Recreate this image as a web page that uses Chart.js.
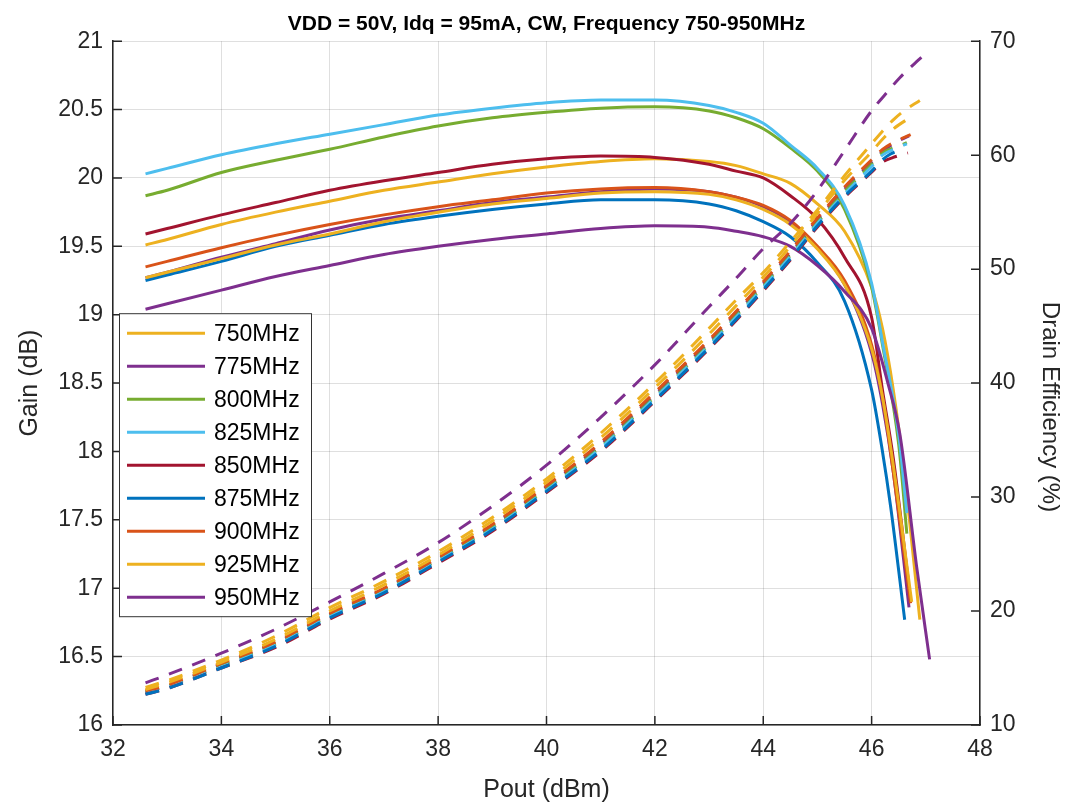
<!DOCTYPE html>
<html>
<head>
<meta charset="utf-8">
<script src="https://cdn.jsdelivr.net/npm/chart.js@4.4.1/dist/chart.umd.min.js"></script>
<style>
  html, body { margin: 0; padding: 0; background: #fff; }
  #wrap { width: 1067px; height: 805px; }
</style>
</head>
<body>
<div id="wrap"><canvas id="chart" width="1067" height="805"></canvas></div>
<script>
// Pout points shared by every curve (dBm), each curve then has its own tail
const poutBase = [32.6, 33, 34, 35, 36, 37, 38, 39, 40, 41, 42, 43, 43.5, 44, 44.5, 45, 45.5, 46];

const tail750 = [46.2, 46.4, 46.6, 46.89];
const tail775 = [46.2, 46.4, 46.69];
const tail800 = [46.2, 46.5, 46.65];
const tail825 = [46.2, 46.5, 46.65];
const tail850 = [46.2, 46.4, 46.67];
const tail875 = [46.2, 46.35, 46.61];
const tail900 = [46.2, 46.4, 46.72];
const tail925 = [46.2, 46.4, 46.74];
const tail950 = [46.3, 46.52, 46.83, 47.07];

// Gain (dB)
const gain750 = [19.51, 19.55, 19.66, 19.75, 19.83, 19.91, 19.97, 20.03, 20.08, 20.12, 20.14, 20.12, 20.09, 20.03, 19.96, 19.81, 19.61, 19.20, 18.90, 18.45, 17.85, 16.77];
const gain775 = [19.27, 19.31, 19.42, 19.52, 19.62, 19.70, 19.76, 19.82, 19.86, 19.90, 19.92, 19.90, 19.86, 19.79, 19.68, 19.49, 19.22, 18.72, 18.35, 17.85, 16.86];
const gain800 = [19.87, 19.91, 20.04, 20.13, 20.21, 20.30, 20.38, 20.44, 20.48, 20.51, 20.52, 20.49, 20.44, 20.36, 20.22, 20.05, 19.77, 19.20, 18.78, 18.05, 17.40];
const gain825 = [20.03, 20.07, 20.17, 20.25, 20.32, 20.39, 20.46, 20.51, 20.55, 20.57, 20.57, 20.53, 20.48, 20.40, 20.24, 20.07, 19.80, 19.23, 18.80, 18.12, 17.55];
const gain850 = [19.59, 19.63, 19.73, 19.82, 19.91, 19.98, 20.04, 20.10, 20.14, 20.16, 20.15, 20.10, 20.05, 20.00, 19.87, 19.70, 19.42, 18.98, 18.45, 17.95, 17.08];
const gain875 = [19.25, 19.29, 19.39, 19.50, 19.58, 19.66, 19.72, 19.77, 19.81, 19.84, 19.84, 19.81, 19.76, 19.68, 19.57, 19.38, 19.10, 18.45, 18.00, 17.60, 16.77];
const gain900 = [19.35, 19.39, 19.49, 19.58, 19.66, 19.73, 19.79, 19.84, 19.89, 19.92, 19.93, 19.90, 19.86, 19.80, 19.69, 19.50, 19.25, 18.78, 18.40, 17.85, 16.89];
const gain925 = [19.27, 19.31, 19.41, 19.51, 19.59, 19.68, 19.75, 19.81, 19.85, 19.89, 19.90, 19.88, 19.84, 19.77, 19.66, 19.48, 19.22, 18.75, 18.40, 17.90, 16.90];
const gain950 = [19.04, 19.08, 19.18, 19.28, 19.36, 19.44, 19.50, 19.55, 19.59, 19.63, 19.65, 19.64, 19.61, 19.57, 19.50, 19.36, 19.17, 18.90, 18.50, 18.13, 17.16, 16.48];

// Drain efficiency (%)
const eff750 = [13.3, 13.9, 15.7, 17.8, 20.3, 22.6, 25.2, 28.2, 31.6, 35.6, 40.0, 44.8, 47.3, 49.7, 52.4, 55.2, 58.2, 61.0, 62.1, 63.1, 63.9, 64.8];
const eff775 = [12.9, 13.4, 15.3, 17.2, 19.7, 21.9, 24.6, 27.5, 30.9, 34.6, 39.0, 43.6, 46.1, 48.7, 51.4, 54.3, 57.0, 59.4, 60.3, 61.0, 61.7];
const eff800 = [12.9, 13.4, 15.2, 17.1, 19.6, 21.8, 24.5, 27.3, 30.7, 34.4, 38.8, 43.4, 45.9, 48.5, 51.2, 54.1, 56.8, 59.2, 60.2, 60.8, 61.1];
const eff825 = [12.8, 13.3, 15.1, 17.0, 19.5, 21.7, 24.4, 27.2, 30.6, 34.3, 38.7, 43.3, 45.8, 48.4, 51.1, 54.0, 56.6, 59.0, 60.0, 60.7, 61.0];
const eff850 = [12.7, 13.2, 15.0, 16.8, 19.3, 21.5, 24.2, 27.0, 30.4, 34.0, 38.4, 43.0, 45.5, 48.1, 50.8, 53.7, 56.3, 58.5, 59.4, 59.8, 60.2];
const eff875 = [12.7, 13.2, 15.0, 16.9, 19.4, 21.6, 24.3, 27.1, 30.5, 34.1, 38.5, 43.1, 45.6, 48.2, 50.9, 53.8, 56.4, 58.6, 59.6, 60.1, 60.6];
const eff900 = [13.0, 13.5, 15.4, 17.3, 19.8, 22.0, 24.7, 27.6, 31.0, 34.8, 39.2, 43.8, 46.3, 48.9, 51.6, 54.5, 57.2, 59.6, 60.5, 61.1, 61.8];
const eff925 = [13.1, 13.7, 15.5, 17.5, 20.0, 22.3, 24.9, 27.9, 31.3, 35.2, 39.6, 44.3, 46.8, 49.3, 52.0, 54.9, 57.8, 60.3, 61.4, 62.3, 63.4];
const eff950 = [13.7, 14.4, 16.3, 18.4, 20.8, 23.3, 26.0, 29.2, 32.8, 37.0, 41.6, 46.7, 49.2, 51.8, 54.0, 56.9, 60.4, 63.9, 65.6, 66.8, 68.2, 69.2];

const freqLabels = ['750MHz', '775MHz', '800MHz', '825MHz', '850MHz', '875MHz', '900MHz', '925MHz', '950MHz'];
const tails = [tail750, tail775, tail800, tail825, tail850, tail875, tail900, tail925, tail950];
const gains = [gain750, gain775, gain800, gain825, gain850, gain875, gain900, gain925, gain950];
const effs = [eff750, eff775, eff800, eff825, eff850, eff875, eff900, eff925, eff950];
const lineColors = ['#EDB120', '#7E2F8E', '#77AC30', '#4DBEEE', '#A2142F', '#0072BD', '#D95319', '#EDB120', '#7E2F8E'];

const xTicks = [32, 34, 36, 38, 40, 42, 44, 46, 48];
const gainTicks = [16, 16.5, 17, 17.5, 18, 18.5, 19, 19.5, 20, 20.5, 21];
const effTicks = [10, 20, 30, 40, 50, 60, 70];

const FONT = "'Liberation Sans', Arial, Helvetica, sans-serif";
const TEXT = '#262626';

function toPoints(xs, ys) {
  return xs.map((x, i) => ({ x: x, y: ys[i] }));
}

const datasets = [];
freqLabels.forEach((label, i) => {
  const xs = poutBase.concat(tails[i]);
  datasets.push({
    label: label,
    data: toPoints(xs, gains[i]),
    yAxisID: 'y',
    borderColor: lineColors[i],
    borderWidth: 3,
    pointRadius: 0,
    cubicInterpolationMode: 'monotone',
    fill: false
  });
});
freqLabels.forEach((label, i) => {
  const xs = poutBase.concat(tails[i]);
  datasets.push({
    label: label + ' DE',
    data: toPoints(xs, effs[i]),
    yAxisID: 'y1',
    borderColor: lineColors[i],
    borderWidth: 3,
    borderDash: [14, 11],
    borderCapStyle: 'butt',
    pointRadius: 0,
    cubicInterpolationMode: 'monotone',
    fill: false,
    isEff: true
  });
});
// later series drawn on top, like the original plot
datasets.forEach((ds, i) => { ds.order = 100 - i; });

// inner tick marks, right axis label and legend box inside the plot
const extrasPlugin = {
  id: 'extras',
  afterDraw(chart) {
    const ctx = chart.ctx;
    const area = chart.chartArea;
    const xs = chart.scales.x, yl = chart.scales.y, yr = chart.scales.y1;
    ctx.save();
    ctx.strokeStyle = TEXT;
    ctx.lineWidth = 1.5;
    ctx.beginPath();
    xs.ticks.forEach(t => {
      const px = xs.getPixelForValue(t.value);
      ctx.moveTo(px, area.bottom);
      ctx.lineTo(px, area.bottom - 9);
    });
    yl.ticks.forEach(t => {
      const py = yl.getPixelForValue(t.value);
      ctx.moveTo(area.left, py);
      ctx.lineTo(area.left + 9, py);
    });
    yr.ticks.forEach(t => {
      const py = yr.getPixelForValue(t.value);
      ctx.moveTo(area.right, py);
      ctx.lineTo(area.right - 9, py);
    });
    ctx.stroke();

    // right axis title
    ctx.save();
    ctx.translate(1050, 407);
    ctx.rotate(Math.PI / 2);
    ctx.fillStyle = TEXT;
    ctx.font = '24px ' + FONT;
    ctx.textAlign = 'center';
    ctx.textBaseline = 'middle';
    ctx.fillText('Drain Efficiency (%)', 0, 0);
    ctx.restore();

    // legend
    const items = chart.data.datasets.filter(d => !d.isEff);
    const boxX = area.left + 6, boxY = area.top + 272;
    const boxW = 192, rowH = 33;
    const boxH = items.length * rowH + 6;
    ctx.fillStyle = '#fff';
    ctx.fillRect(boxX, boxY, boxW, boxH);
    ctx.lineWidth = 1;
    ctx.strokeStyle = '#333';
    ctx.strokeRect(boxX + 0.5, boxY + 0.5, boxW, boxH);
    ctx.font = '23px ' + FONT;
    ctx.textBaseline = 'middle';
    ctx.textAlign = 'left';
    items.forEach((d, i) => {
      const cy = boxY + 20 + i * rowH;
      ctx.strokeStyle = d.borderColor;
      ctx.lineWidth = 3;
      ctx.beginPath();
      ctx.moveTo(boxX + 8, cy);
      ctx.lineTo(boxX + 86, cy);
      ctx.stroke();
      ctx.fillStyle = '#000';
      ctx.fillText(d.label, boxX + 95, cy + 1);
    });
    ctx.restore();
  }
};

const gridColor = 'rgba(38,38,38,0.15)';
const plainNumber = v => String(v);

new Chart(document.getElementById('chart'), {
  type: 'line',
  data: { datasets: datasets },
  options: {
    responsive: false,
    animation: false,
    devicePixelRatio: 1,
    layout: { padding: 0 },
    plugins: {
      legend: { display: false },
      tooltip: { enabled: false },
      title: {
        display: true,
        text: 'VDD = 50V, Idq = 95mA, CW, Frequency 750-950MHz',
        fullSize: false,
        color: '#000',
        font: { family: FONT, size: 21, weight: 'bold', lineHeight: 1.2 },
        padding: { top: 12, bottom: 4 }
      }
    },
    scales: {
      x: {
        type: 'linear',
        min: 32, max: 48,
        afterBuildTicks: s => { s.ticks = xTicks.map(v => ({ value: v })); },
        afterFit: s => { s.height = 80; },
        grid: { color: gridColor, drawTicks: false },
        border: { display: true, color: TEXT, width: 1.5 },
        ticks: { color: TEXT, padding: 11, font: { family: FONT, size: 23 }, callback: plainNumber },
        title: { display: true, text: 'Pout (dBm)', color: TEXT, font: { family: FONT, size: 25 }, padding: { top: 0, bottom: 0 } }
      },
      y: {
        type: 'linear',
        position: 'left',
        min: 16, max: 21,
        afterBuildTicks: s => { s.ticks = gainTicks.map(v => ({ value: v })); },
        afterFit: s => { s.width = 113; },
        grid: { color: gridColor, drawTicks: false },
        border: { display: true, color: TEXT, width: 1.5 },
        ticks: { color: TEXT, padding: 10, font: { family: FONT, size: 23 }, callback: plainNumber },
        title: { display: true, text: 'Gain (dB)', color: TEXT, font: { family: FONT, size: 25 }, padding: { top: 15, bottom: 0 } }
      },
      y1: {
        type: 'linear',
        position: 'right',
        min: 10, max: 70,
        afterBuildTicks: s => { s.ticks = effTicks.map(v => ({ value: v })); },
        afterFit: s => { s.width = 87; },
        grid: { display: false, drawTicks: false },
        border: { display: true, color: TEXT, width: 1.5 },
        ticks: { color: TEXT, padding: 10, font: { family: FONT, size: 23 }, callback: plainNumber }
      }
    }
  },
  plugins: [extrasPlugin]
});
</script>
</body>
</html>
